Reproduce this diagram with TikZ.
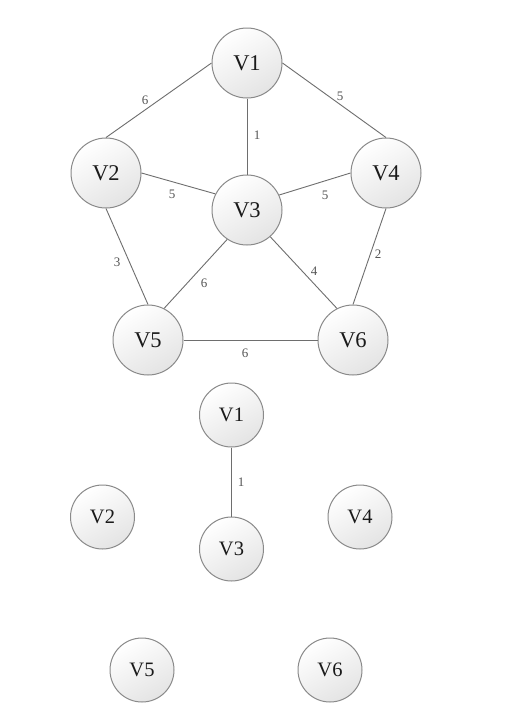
\documentclass[tikz,border=0pt]{standalone}
\usepackage{fontspec}
\setmainfont{Liberation Serif}
\definecolor{edgec}{HTML}{6E6E6E}
\definecolor{borderc}{HTML}{8A8A8A}
\definecolor{labc}{HTML}{555555}
\definecolor{txtc}{HTML}{1A1A1A}
\definecolor{shadec}{HTML}{E4E4E4}
\begin{document}
\begin{tikzpicture}[x=1pt,y=-1pt,
  vbig/.style={circle,draw=borderc,line width=1pt,top color=white,bottom color=shadec,shading angle=30,
    minimum size=70pt,inner sep=0pt,text=txtc,font=\fontsize{22.5}{25}\selectfont},
  vsmall/.style={vbig,minimum size=64pt,font=\fontsize{20.5}{23}\selectfont},
  edge/.style={draw=edgec,line width=0.9pt},
  lab/.style={text=labc,inner sep=0pt,font=\fontsize{13}{15}\selectfont}]
\useasboundingbox[fill=white] (0,0) rectangle (515,710);
% top graph
\node[vbig] (a1) at (247,63) {V1};
\node[vbig] (a2) at (106,173) {V2};
\node[vbig] (a3) at (247,210) {V3};
\node[vbig] (a4) at (386,173) {V4};
\node[vbig] (a5) at (148,340) {V5};
\node[vbig] (a6) at (353,340) {V6};
\draw[edge] (a1.west) -- (a2.north) node[lab] (l12) at (145,100) {6};
\draw[edge] (a1.east) -- (a4.north) node[lab] (l14) at (340,96) {5};
\draw[edge] (a1.south) -- (a3.north) node[lab] (l13) at (257,135) {1};
\draw[edge] (a2.east) -- (a3.153) node[lab] (l23) at (172,194) {5};
\draw[edge] (a3.25) -- (a4.west) node[lab] (l34) at (325,195) {5};
\draw[edge] (a2.south) -- (a5.north) node[lab] (l25) at (117,262) {3};
\draw[edge] (a3.236) -- (a5.63) node[lab] (l35) at (204,283) {6};
\draw[edge] (a3.311) -- (a6.117) node[lab] (l36) at (314,271) {4};
\draw[edge] (a4.south) -- (a6.north) node[lab] (l46) at (378,254) {2};
\draw[edge] (a5.east) -- (a6.west) node[lab] (l56) at (245,353) {6};
% bottom graph
\node[vsmall] (b1) at (231.5,415) {V1};
\node[vsmall] (b2) at (102.5,517) {V2};
\node[vsmall] (b3) at (231.5,549) {V3};
\node[vsmall] (b4) at (360,517) {V4};
\node[vsmall] (b5) at (142,670) {V5};
\node[vsmall] (b6) at (330,670) {V6};
\draw[edge] (b1.south) -- (b3.north) node[lab] (m13) at (241,482) {1};
\end{tikzpicture}
\end{document}
